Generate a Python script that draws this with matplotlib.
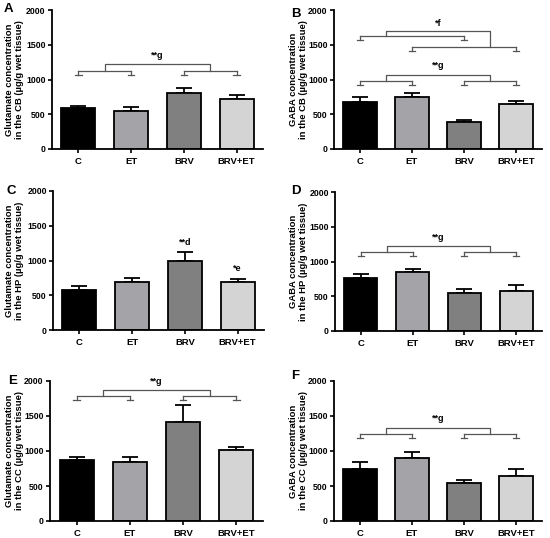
import matplotlib
matplotlib.use('Agg')
import matplotlib.pyplot as plt
import numpy as np

plt.rcParams['font.family'] = ['Liberation Sans', 'DejaVu Sans']
plt.rcParams['font.weight'] = 'bold'

groups = ['C', 'ET', 'BRV', 'BRV+ET']
colors = ['#000000', '#a3a3a8', '#808080', '#d4d4d4']

# mean and upper SEM
glu_cb = [585, 552, 810, 720]
glu_cb_top = [620, 610, 873, 777]
gaba_cb = [676, 748, 386, 642]
gaba_cb_top = [748, 810, 420, 690]
glu_hp = [581, 690, 990, 690]
glu_hp_top = [629, 752, 1119, 738]
gaba_hp = [757, 843, 548, 571]
gaba_hp_top = [824, 890, 600, 662]
glu_cc = [866, 837, 1416, 1019]
glu_cc_top = [914, 914, 1656, 1057]
gaba_cc = [742, 900, 536, 646]
gaba_cc_top = [847, 981, 579, 737]

ylabels = ['Glutamate concentration\nin the CB (µg/g wet tissue)',
           'GABA concentration\nin the CB (µg/g wet tissue)',
           'Glutamate concentration\nin the HP (µg/g wet tissue)',
           'GABA concentration\nin the HP (µg/g wet tissue)',
           'Glutamate concentration\nin the CC (µg/g wet tissue)',
           'GABA concentration\nin the CC (µg/g wet tissue)']
letters = ['A', 'B', 'C', 'D', 'E', 'F']
means = [glu_cb, gaba_cb, glu_hp, gaba_hp, glu_cc, gaba_cc]
tops = [glu_cb_top, gaba_cb_top, glu_hp_top, gaba_hp_top, glu_cc_top, gaba_cc_top]

# (lower bracket y, upper bracket y, label y) for the "**g" style comparisons
g_brackets = {0: (1127, 1218, 1352), 1: (983, 1070, 1195), 3: (1138, 1219, 1343),
              4: (1785, 1876, 1990), 5: (1244, 1330, 1459)}

# axes boxes in pixels: left, right, top, bottom
boxes = [(52, 263, 10, 149), (334, 542, 10, 149),
         (53, 264, 191, 330), (335, 542, 192, 331),
         (50, 263, 381, 521), (334, 542, 381, 521)]
label_x = [24, 308, 24, 308, 24, 308]
letter_xy = [(4, 9), (291, 14), (6, 191), (291, 191), (8, 381), (291, 376)]

W, H = 550, 538
fig = plt.figure(figsize=(5.5, 5.38), dpi=100)
br_col = '#555555'


def foot(ax, x, y0, y1):
    ax.plot([x, x], [y0, y1], color=br_col, lw=0.9)
    ax.plot([x - 0.06, x + 0.06], [y0, y0], color=br_col, lw=0.9)


def pair(ax, xa, xb, y, d):
    ax.plot([xa, xb], [y, y], color=br_col, lw=0.9)
    foot(ax, xa, y - d, y)
    foot(ax, xb, y - d, y)


for i, (l, r, t, b) in enumerate(boxes):
    ax = fig.add_axes([l / W, 1 - b / H, (r - l) / W, (b - t) / H])
    x = np.arange(len(groups))
    m = np.array(means[i])
    e = np.array(tops[i]) - m
    ax.bar(x, m, width=0.64, color=colors, edgecolor='black', linewidth=1.3, zorder=2)
    ax.errorbar(x, m, yerr=[np.zeros_like(e), e], fmt='none', ecolor='black',
                elinewidth=1.3, capsize=6, capthick=1.3, zorder=1)
    ax.set_xlim(-0.5, 3.5)
    ax.set_ylim(0, 2000)
    ax.set_yticks([0, 500, 1000, 1500, 2000])
    ax.set_xticks(x)
    ax.set_xticklabels(groups)
    for s in ['top', 'right']:
        ax.spines[s].set_visible(False)
    for s in ['left', 'bottom']:
        ax.spines[s].set_linewidth(1.3)
    ax.tick_params(axis='y', labelsize=6.3, width=1.2, length=3, pad=1.5)
    ax.tick_params(axis='x', labelsize=6.8, width=1.2, length=3, pad=2.5)
    ax.set_ylabel(ylabels[i], fontsize=6.8, fontweight='bold', linespacing=1.15)
    ax.yaxis.set_label_coords((label_x[i] - l) / (r - l), 0.5)
    lx, ly = letter_xy[i]
    fig.text(lx / W, 1 - ly / H, letters[i], fontsize=9.5, fontweight='bold',
             va='center', ha='left')

    if i in g_brackets:
        low, up, ty = g_brackets[i]
        pair(ax, 0, 1, low, 60)
        pair(ax, 2, 3, low, 60)
        ax.plot([0.5, 0.5, 2.5, 2.5], [low, up, up, low], color=br_col, lw=0.9)
        ax.text(1.5, ty, '**g', ha='center', va='center', fontsize=6.5, fontweight='bold')
    if i == 1:
        pair(ax, 0, 2, 1626, 58)
        pair(ax, 1, 3, 1472, 62)
        ax.plot([0.5, 0.5, 2.5, 2.5], [1626, 1698, 1698, 1472], color=br_col, lw=0.9)
        ax.text(1.5, 1808, '*f', ha='center', va='center', fontsize=6.5, fontweight='bold')
    if i == 2:
        ax.text(2, 1262, '**d', ha='center', va='center', fontsize=6.5, fontweight='bold')
        ax.text(3, 881, '*e', ha='center', va='center', fontsize=6.5, fontweight='bold')

fig.savefig('out.png', dpi=100)
